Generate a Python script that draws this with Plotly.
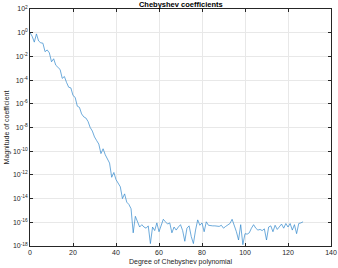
import plotly.graph_objects as go

degrees = list(range(128))
magnitudes = [
    1.0e0, 5.0e-1, 1.6e-1, 7.9e-1, 2.0e-1, 1.4e-1, 1.3e-1, 2.5e-2, 3.5e-2, 2.0e-2,
    3.5e-3, 6.3e-3, 1.8e-3, 1.1e-3, 7.9e-4, 1.4e-4, 2.0e-4, 6.3e-5, 2.5e-5, 2.2e-5,
    5.0e-6, 3.5e-6, 6.3e-7, 5.0e-7, 1.4e-7, 7.9e-8, 6.3e-8, 3.2e-8, 1.0e-8, 5.0e-9,
    1.6e-9, 7.9e-10, 4.0e-10, 6.3e-11, 1.6e-10, 5.0e-11, 2.5e-11, 1.0e-11, 6.3e-13, 1.6e-12,
    4.0e-13, 2.0e-13, 1.0e-13, 1.0e-14, 2.5e-14, 5.0e-15, 3.2e-15, 1.4e-15, 1.3e-17, 3.2e-16,
    1.0e-16, 4.0e-17, 6.3e-17, 4.0e-17, 3.2e-17, 5.0e-17, 1.6e-18, 4.0e-17, 2.0e-17, 8.9e-17,
    1.6e-17, 5.6e-17, 1.8e-16, 1.1e-16, 7.1e-17, 8.9e-17, 1.3e-17, 4.0e-17, 2.2e-17, 4.0e-17,
    6.3e-17, 2.0e-17, 2.5e-18, 3.2e-17, 5.0e-17, 6.3e-18, 1.6e-18, 2.2e-17, 1.6e-16, 5.6e-17,
    8.9e-17, 1.6e-17, 1.1e-16, 5.6e-17, 5.0e-17, 5.0e-17, 5.0e-17, 5.0e-17, 4.5e-17, 5.6e-17,
    3.2e-17, 4.5e-17, 5.6e-17, 7.9e-17, 1.8e-16, 5.6e-17, 1.6e-17, 3.2e-18, 6.3e-17, 1.3e-18,
    1.1e-17, 1.0e-17, 1.3e-17, 3.2e-17, 6.3e-17, 3.2e-17, 2.2e-17, 2.5e-17, 2.0e-17, 2.8e-17,
    3.2e-18, 4.0e-17, 5.0e-17, 1.6e-17, 5.6e-17, 2.5e-17, 4.0e-17, 7.1e-17, 3.2e-17, 7.9e-17,
    4.0e-17, 7.9e-17, 2.2e-17, 6.3e-17, 1.1e-17, 7.9e-17, 8.9e-17, 1.1e-16,
]

x_ticks = [0, 20, 40, 60, 80, 100, 120, 140]
y_tickvals = [1e2, 1e0, 1e-2, 1e-4, 1e-6, 1e-8, 1e-10, 1e-12, 1e-14, 1e-16, 1e-18]
y_ticktext = ["10<sup>2</sup>", "10<sup>0</sup>", "10<sup>-2</sup>", "10<sup>-4</sup>",
              "10<sup>-6</sup>", "10<sup>-8</sup>", "10<sup>-10</sup>", "10<sup>-12</sup>",
              "10<sup>-14</sup>", "10<sup>-16</sup>", "10<sup>-18</sup>"]

title_text = "Chebyshev coefficients"
x_title = "Degree of Chebyshev polynomial"
y_title = "Magnitude of coefficient"

font_family = "Liberation Sans, Arial, sans-serif"
axis_color = "#262626"
grid_color = "#e8e8e8"

fig = go.Figure()
fig.add_trace(go.Scatter(
    x=degrees, y=magnitudes, mode="lines",
    line=dict(color="#2f86cc", width=0.7),
    showlegend=False,
))

fig.update_layout(
    width=338, height=268,
    margin=dict(l=30, r=7, t=9, b=22, autoexpand=False),
    paper_bgcolor="white", plot_bgcolor="white",
    font=dict(family=font_family, size=7, color=axis_color),
    title=dict(text="<b>" + title_text + "</b>", x=0.535, xanchor="center",
               y=0.995, yanchor="top", font=dict(size=7.5, color="black")),
)

fig.update_xaxes(
    range=[0, 140], tickvals=x_ticks, ticktext=[str(v) for v in x_ticks],
    showgrid=True, gridcolor=grid_color, gridwidth=0.6,
    showline=True, linecolor=axis_color, linewidth=0.6, mirror="ticks",
    ticks="inside", ticklen=3, tickcolor=axis_color, tickwidth=0.6,
    zeroline=False, automargin=False,
    title=dict(text=x_title, font=dict(size=7), standoff=3),
    tickfont=dict(size=7),
)
fig.update_yaxes(
    type="log", range=[-18, 2], tickvals=y_tickvals, ticktext=y_ticktext,
    showgrid=True, gridcolor=grid_color, gridwidth=0.6,
    showline=True, linecolor=axis_color, linewidth=0.6, mirror="ticks",
    ticks="inside", ticklen=3, tickcolor=axis_color, tickwidth=0.6,
    zeroline=False, automargin=False,
    title=dict(text=y_title, font=dict(size=7), standoff=2),
    tickfont=dict(size=7),
)

fig.write_html("out.html", config={"displayModeBar": False},
               post_script="document.body.style.margin='0';")
